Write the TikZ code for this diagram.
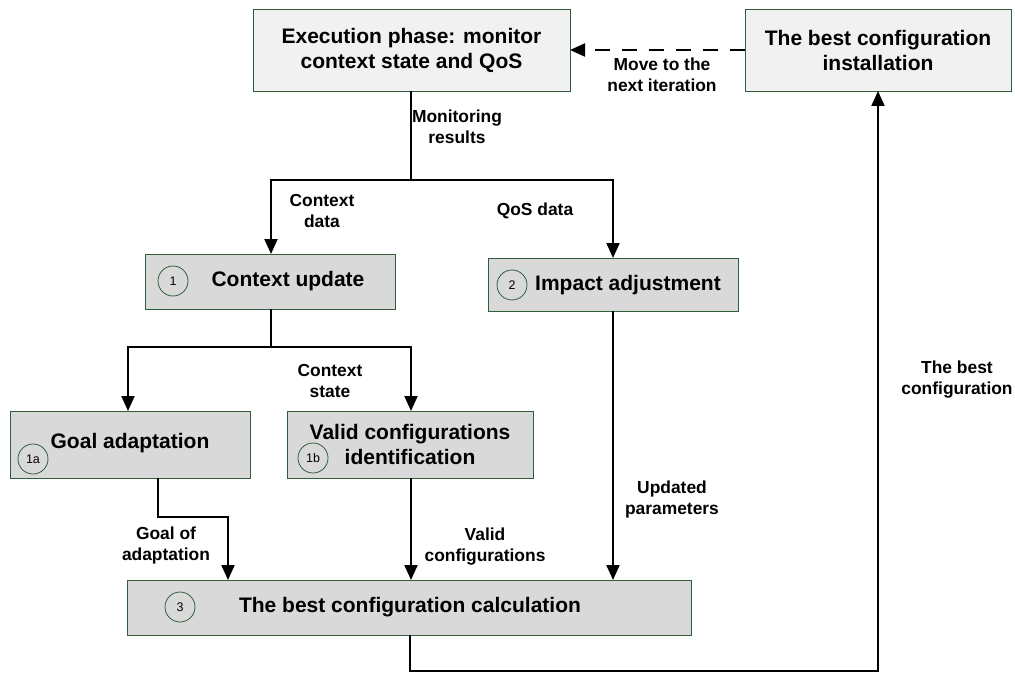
\documentclass[tikz,border=0pt]{standalone}
\usepackage{fontspec}
\setmainfont{Liberation Sans}
\usetikzlibrary{arrows.meta,calc}
\definecolor{boxline}{HTML}{2F5E3C}
\definecolor{lightfill}{HTML}{F1F1F1}
\definecolor{darkfill}{HTML}{D9D9D9}
\tikzset{
  box/.style={draw=boxline, line width=0.9pt, inner sep=0pt, outer sep=0pt},
  topbox/.style={box, fill=lightfill},
  midbox/.style={box, fill=darkfill},
  boxtext/.style={font=\fontsize{21}{25}\selectfont\bfseries, align=center, inner sep=0pt},
  lbl/.style={font=\fontsize{17.4}{21}\selectfont\bfseries, align=center, inner sep=0pt},
  numc/.style={circle, draw=boxline, line width=0.8pt, minimum size=30pt, inner sep=0pt, font=\fontsize{12.5}{12.5}\selectfont},
  conn/.style={line width=2pt, -{Triangle[length=15pt,width=13pt]}},
  plain/.style={line width=2pt},
}
\begin{document}
\begin{tikzpicture}[x=1pt,y=-1pt]
\useasboundingbox (0,0) rectangle (1015,674);
% boxes
\node[topbox, minimum width=317pt, minimum height=82pt] (exec) at (411.5,50) {};
\node[boxtext] (exect) at (411.5,50) {Execution phase: monitor\\context state and QoS};
\node[topbox, minimum width=266pt, minimum height=82pt] (inst) at (878,50) {};
\node[boxtext] (instt) at (878,50) {The best configuration\\installation};
\node[midbox, minimum width=250pt, minimum height=55pt] (ctx) at (270,281.5) {};
\node[numc] (c1) at (173,281) {1};
\node[boxtext] (ctxt) at (288,281) {Context update};
\node[midbox, minimum width=250pt, minimum height=53pt] (imp) at (613,284.5) {};
\node[numc] (c2) at (512,285) {2};
\node[boxtext] (impt) at (628,285) {Impact adjustment};
\node[midbox, minimum width=240pt, minimum height=67pt] (goal) at (130,444.5) {};
\node[numc] (c1a) at (33,459) {1a};
\node[boxtext] (goalt) at (130,443) {Goal adaptation};
\node[midbox, minimum width=246pt, minimum height=67pt] (valid) at (410,444.5) {};
\node[numc] (c1b) at (313,458) {1b};
\node[boxtext] (validt) at (410,444) {Valid configurations\\identification};
\node[midbox, minimum width=564pt, minimum height=55pt] (calc) at (409,607.5) {};
\node[numc] (c3) at (180,607) {3};
\node[boxtext] (calct) at (410,607) {The best configuration calculation};
% connectors
\coordinate (j1) at (411,180);
\draw[plain] (exec.south -| j1) -- (j1);
\draw[conn] (j1) -| (ctx.north -| 271,0);
\draw[conn] (j1) -| (imp.north);
\coordinate (j2) at (271,347);
\draw[plain] (ctx.south -| j2) -- (j2);
\draw[conn] (j2) -| (goal.north -| 128,0);
\draw[conn] (j2) -| (valid.north -| 411,0);
\coordinate (g1) at (158,517);
\draw[conn] (goal.south -| g1) -- (g1) -| (calc.north -| 228,0);
\draw[conn] (valid.south -| 411,0) -- (calc.north -| 411,0);
\draw[conn] (imp.south) -- (calc.north -| imp.south);
\coordinate (b1) at (410,671);
\draw[conn] (calc.south -| b1) -- (b1) -| (inst.south);
\draw[line width=2pt, dash pattern=on 15pt off 12pt, -{Triangle[length=15pt,width=13pt]}] (inst.west) -- (exec.east);
% labels
\node[lbl] (l1) at (457,127) {Monitoring\\results};
\node[lbl] (l2) at (322,211) {Context\\data};
\node[lbl] (l3) at (535,211) {QoS data};
\node[lbl] (l4) at (330,381) {Context\\state};
\node[lbl] (l5) at (166,545) {Goal of\\adaptation};
\node[lbl] (l6) at (485,547) {Valid\\configurations};
\node[lbl] (l7) at (672,499) {Updated\\parameters};
\node[lbl] (l8) at (957,380) {The best\\configuration};
\node[lbl] (l9) at (662,75) {Move to the\\next iteration};
\end{tikzpicture}
\end{document}
